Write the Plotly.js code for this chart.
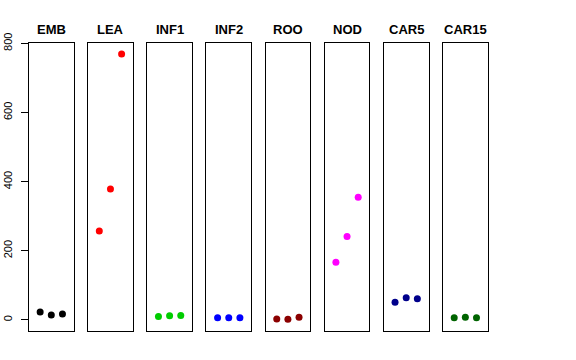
<!DOCTYPE html>
<html>
<head>
<meta charset="utf-8">
<script src="https://cdn.plot.ly/plotly-3.0.1.min.js"></script>
<style>html,body{margin:0;padding:0;background:#fff;}#chart{width:576px;height:360px;}</style>
</head>
<body>
<div id="chart"></div>
<script>
var groups = ["EMB", "LEA", "INF1", "INF2", "ROO", "NOD", "CAR5", "CAR15"];
var xPos = [1, 2, 3];
var valEMB = [23, 14, 17];
var valLEA = [257, 379, 769];
var valINF1 = [10, 12, 13];
var valINF2 = [6, 6, 6];
var valROO = [3, 2, 8];
var valNOD = [167, 241, 355];
var valCAR5 = [51, 64, 61];
var valCAR15 = [6, 8, 6];
var colors = ["#000000", "#FF0000", "#00CD00", "#0000FF", "#8B0000", "#FF00FF", "#00008B", "#006400"];
var yTicks = [0, 200, 400, 600, 800];

var series = [valEMB, valLEA, valINF1, valINF2, valROO, valNOD, valCAR5, valCAR15];
var W = 576, H = 360;
var left0 = 29, pitch = 59.15, pw = 44.6;
var yTop = 43, yBot = 331;
var data = [];
var layout = {
  width: W, height: H,
  margin: {l: 0, r: 0, t: 0, b: 0},
  paper_bgcolor: "#fff", plot_bgcolor: "#fff",
  showlegend: false,
  font: {family: "Liberation Sans, Arial, sans-serif", color: "#000"},
  annotations: []
};
for (var i = 0; i < groups.length; i++) {
  var xa = i === 0 ? "x" : "x" + (i + 1);
  var ya = i === 0 ? "y" : "y" + (i + 1);
  var xk = i === 0 ? "xaxis" : "xaxis" + (i + 1);
  var yk = i === 0 ? "yaxis" : "yaxis" + (i + 1);
  data.push({
    type: "scatter", mode: "markers",
    x: xPos, y: series[i], xaxis: xa, yaxis: ya,
    marker: {color: colors[i], size: 7},
    hoverinfo: "skip"
  });
  var l = left0 + i * pitch;
  var d0 = l / W, d1 = (l + pw) / W;
  layout[xk] = {
    domain: [d0, d1], range: [0, 4], anchor: ya,
    showgrid: false, zeroline: false, showticklabels: false, ticks: "",
    showline: true, mirror: true, linecolor: "#000", linewidth: 1
  };
  var yax = {
    domain: [1 - yBot / H, 1 - yTop / H], range: [-32, 801], anchor: xa,
    showgrid: false, zeroline: false,
    showline: true, mirror: true, linecolor: "#000", linewidth: 1
  };
  if (i === 0) {
    yax.tickvals = yTicks; yax.ticktext = yTicks.map(String);
    yax.ticks = "outside"; yax.ticklen = 7; yax.tickcolor = "#000"; yax.tickwidth = 1;
    yax.tickangle = -90; yax.tickfont = {size: 11, color: "#000"};
    yax.ticklabelstandoff = 5;
    yax.showticklabels = true;
  } else {
    yax.showticklabels = false; yax.ticks = "";
  }
  layout[yk] = yax;
  layout.annotations.push({
    text: "<b>" + groups[i] + "</b>", xref: "paper", yref: "paper",
    x: (l + pw / 2) / W, y: 1 - 29 / H, xanchor: "center", yanchor: "middle",
    showarrow: false, font: {size: 13, color: "#000", family: "Liberation Sans, Arial, sans-serif"}
  });
}
Plotly.newPlot("chart", data, layout, {staticPlot: true, displayModeBar: false});
</script>
</body>
</html>
